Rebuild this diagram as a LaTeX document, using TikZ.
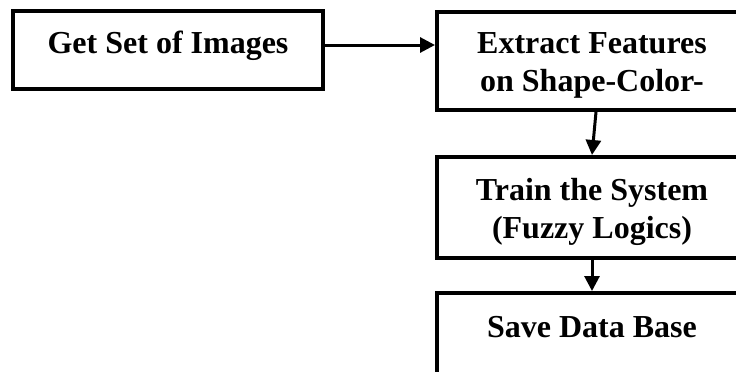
\documentclass[tikz,border=0pt]{standalone}
\usepackage{fontspec}
\setmainfont{Liberation Serif}
\usetikzlibrary{arrows.meta}
\tikzset{
  box/.style={draw=black, line width=4pt, rectangle, minimum width=310pt, inner sep=0pt, fill=none},
  boxtext/.style={font=\fontsize{32}{38}\selectfont\bfseries, align=center, inner sep=0pt},
  arr/.style={line width=3pt, -{Triangle[length=15pt,width=15pt]}}
}
\begin{document}
\begin{tikzpicture}[x=1pt,y=-1pt]
\useasboundingbox (0,0) rectangle (736,372);
\clip (0,0) rectangle (736,372);
\node[box, minimum height=78pt] (b1) at (168,50) {};
\node[box, minimum height=98pt] (b2) at (592,61) {};
\node[box, minimum height=101pt] (b3) at (592,207.5) {};
\node[box, minimum height=101pt] (b4) at (592,343.5) {};
\node[boxtext] (t1) at (168,45.5) {Get Set of Images};
\node[boxtext] (t2) at (592,65) {Extract Features\\on Shape-Color-};
\node[boxtext] (t3) at (592,211.5) {Train the System\\(Fuzzy Logics)};
\node[boxtext] (t4) at (592,327.5) {Save Data Base};
\coordinate (a1s) at ([yshift=5pt]b1.east);
\draw[arr] (a1s) -- (a1s -| b2.west);
\draw[arr] ([xshift=4pt]b2.south) -- (b3.north);
\draw[arr] (b3.south) -- (b4.north);
\end{tikzpicture}
\end{document}
